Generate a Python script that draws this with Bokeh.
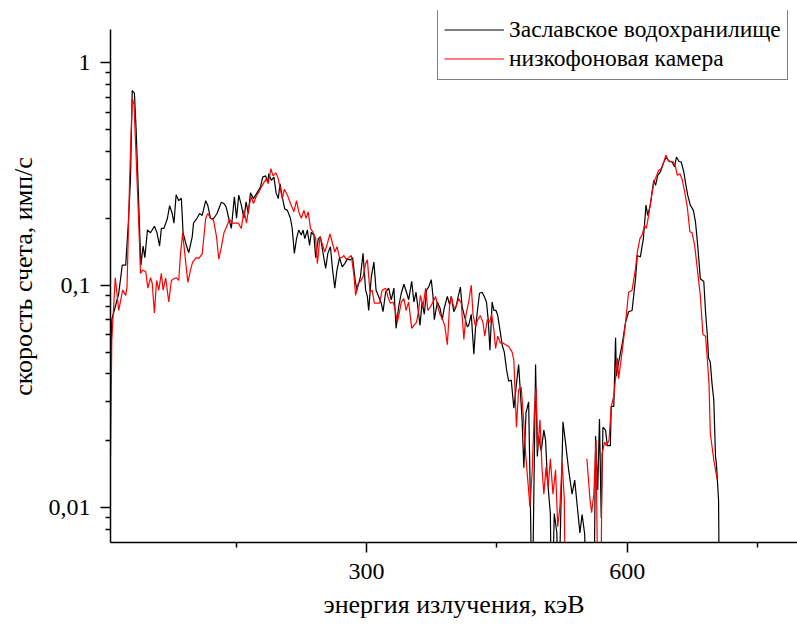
import math
from bokeh.plotting import figure
from bokeh.models import FixedTicker, CustomJSTickFormatter, Range1d
from bokeh.embed import file_html
from bokeh.resources import INLINE

NAN = float("nan")

# Заславское водохранилище (black)
black_energy = [5.5, 7, 11, 15, 19, 23, 26, 28.5, 30.5, 33, 35, 37, 39, 40.5, 43, 45, 48, 51.5, 56, 59,
                62, 64, 67, 71, 73.5, 76.5, 78.5, 81, 84, 87, 89, 93, 95.5, 99.5, 101, 105, 108, 111, 115, 117.5,
                120.5, 124, 128, 133, 136, 138.5, 141.5, 144.5, 148, 150.5, 153, 156, 159, 161.5, 164, 166.5, 170, 174, 178, 180.5,
                184, 186.5, 187.5, 190.5, 193.5, 196, 198.5, 200.5, 203, 206, 209, 212.5, 214.5, 217, 219.5, 222, 225, 227, 229, 232,
                234.5, 236.5, 239.5, 241.5, 244.5, 247, 249.5, 253, 255.5, 258.5, 261, 263.5, 266, 269, 272, 275, 278, 281.5, 284, 287,
                289, 293, 296, 299, 301, 302.5, 305.5, 308.5, 311, 314, 317, 319, 322, 325.5, 328.5, 331.5, 334, 337, 340, 343,
                346, 348.5, 352, 354.5, 357, 359, 361.5, 364, 366.5, 369, 371.5, 374.5, 376.5, 378, 381.5, 384.5, 387, 389.5, 393, 395.5,
                397.5, 400.5, 403, 405.5, 408, 410, 412.5, 416, 417.5, 420.5, 423.5, 425.5, 427.5, 430, 433, 435.5, 438, 440, 442, 444.5,
                446.5, 449, 451, 453.5, 456, 458.5, 461, 463.5, 466.5, 469.5, 472.5, 475, 477, 479, 481, 483.5, 486.5, 488.5, 490.5, 494.5,
                496.5, 498, 501, 504, 506, 508, 511.5, 513, 516, 519, 520.5, 526, 529, 532.5, 536.5, 539.5, 542.5, 545.5, 548, 551,
                553, 561.5, 563.5, 566, 568, 570, 572, 575, 577, 580.5, 581.5, 584.5, 586.5, 587.5, 590, 594, 598, 601.5, 605.5, 609.5,
                611.5, 615, 618.5, 620, 621.5, 623.5, 626.5, 628.5, 630.5, 632.5, 635, 638, 642, 645, 648, 651.5, 654.5, 656.5, 659.5, 662,
                665, 667.5, 669.5, 672.5, 676, 678.5, 681, 684, 688, 690, 692, 693.5, 695.5, 697.5, 699.5, 701.5, 702.5, 705, 706.5]
black_rate = [0.035, 0.070, 0.080, 0.092, 0.123, 0.123, 0.19, 0.30, 0.75, 0.73, 0.50, 0.30, 0.177, 0.123, 0.15, 0.133, 0.177, 0.172, 0.184, 0.172,
              0.15, 0.18, 0.18, 0.20, 0.228, 0.21, 0.19, 0.255, 0.24, 0.246, 0.172, 0.15, 0.14, 0.165, 0.19, 0.20, 0.21, 0.206, 0.24, 0.228,
              0.20, 0.199, 0.21, 0.236, 0.233, 0.225, 0.20, 0.18, 0.25, 0.20, 0.254, 0.229, 0.20, 0.237, 0.21, 0.26, 0.245, 0.26, 0.276, 0.306,
              0.31, 0.29, 0.317, 0.296, 0.306, 0.26, 0.245, 0.286, 0.25, 0.22, 0.217, 0.20, 0.18, 0.139, 0.162, 0.177, 0.168, 0.177, 0.162, 0.177,
              0.151, 0.173, 0.168, 0.133, 0.162, 0.165, 0.143, 0.119, 0.139, 0.149, 0.117, 0.097, 0.117, 0.133, 0.121, 0.125, 0.131, 0.13, 0.133, 0.105,
              0.095, 0.109, 0.139, 0.095, 0.089, 0.077, 0.109, 0.127, 0.095, 0.089, 0.083, 0.076, 0.093, 0.097, 0.086, 0.097, 0.064, 0.08, 0.092, 0.101,
              0.093, 0.086, 0.104, 0.084, 0.093, 0.08, 0.066, 0.084, 0.074, 0.095, 0.098, 0.106, 0.089, 0.07, 0.084, 0.079, 0.07, 0.079, 0.089, 0.082,
              0.089, 0.076, 0.08, 0.089, 0.098, 0.08, 0.073, 0.065, 0.066, 0.074, 0.049, 0.065, 0.076, 0.092, 0.093, 0.089, 0.084, 0.07, 0.051, 0.084,
              0.077, 0.077, 0.073, 0.063, 0.054, 0.05, 0.042, 0.037, 0.0375, 0.028, 0.036, 0.044, 0.033, 0.0248, 0.0151, 0.0267, 0.0299, 0.0108, 0.003, 0.044,
              0.017, 0.021, 0.018, 0.0223, 0.0201, 0.0137, 0.0094, 0.003, 0.0094, 0.0077, 0.003, 0.0243, 0.0195, 0.0148, 0.0115, 0.0133, 0.0101, 0.0077, 0.0093, 0.0076,
              0.003, 0.003, 0.021, 0.012, 0.025, 0.009, 0.023, 0.0223, 0.019, 0.019, 0.0285, 0.0285, 0.058, 0.039, 0.045, 0.054, 0.068, 0.076, 0.077, 0.107,
              0.136, 0.134, 0.162, 0.192, 0.229, 0.206, 0.229, 0.263, 0.296, 0.281, 0.312, 0.323, 0.358, 0.377, 0.36, 0.358, 0.34, 0.377, 0.36, 0.358,
              0.323, 0.281, 0.254, 0.229, 0.217, 0.192, 0.151, 0.107, 0.104, 0.076, 0.06, 0.047, 0.045, 0.036, 0.0305, 0.0169, 0.0158, 0.0108, 0.002]

# низкофоновая камера (red)
red_energy = [5.5, 7, 11, 15, 19.5, 23, 24.5, 27.5, 30.5, 32.5, 35, 38, 40, 42.5, 46, 48.5, 51.5, 53.5, 56, 58.5,
              61, 64, 66, 69, 70.5, 72.5, 75.5, 78.5, 81.5, 84, 86, 88.5, 92, 94.5, 97.5, 100, 104, 107, 111, 115,
              117.5, 120.5, 124, 127.5, 130, 133, 136, 139, 142.5, 145.5, 149.5, 152.5, 156, 159, 162, 164.5, 167.5, 170, 173, 176,
              179, 182, 184.5, 187, 190, 192.5, 195.5, 198, 200.5, 203, 205.5, 209, 212.5, 216.5, 219.5, 222, 225, 228, 230.5, 233,
              235.5, 238.5, 241.5, 243.5, 246.5, 249, 252, 255, 258, 260.5, 263.5, 266, 269, 271.5, 274, 276.5, 279.5, 282.5, 285.5, 287.5,
              290.5, 293, 296, 299, 301, 304, 306.5, 309, 312, 315, 318, 322, 324.5, 327.5, 330.5, 332.5, 335.5, 338, 340, 343,
              345.5, 348.5, 352, 354.5, 357.5, 360, 362, 365, 368, 370.5, 373.5, 376.5, 379.5, 382, 384.5, 387, 390, 393, 395.5, 397.5,
              400.5, 403, 406, 409, 412, 414.5, 417.5, 420.5, 422.5, 425.5, 428, 431, 434, 436, 439, 441.5, 444, 446.5, 448.5, 451,
              454, 457, 460, 463.5, 467.5, 469.5, 472.5, 475, 478, 480.5, 483, 485.5, 488, 490.5, 493, 495, 497, 499.5, 502, 504,
              506.5, 509, 511.5, 514.5, 517.5, 520, 522.5, 525, 527.5, 529.5, 540, 553.5, 557, 559, 561.5, 564, 567, 569, 571, 574,
              576, 579, 581.5, 584.5, 586.5, 588.5, 590, 594, 598, 601.5, 605.5, 609.5, 611.5, 614.5, 617, 620, 622, 624.5, 627.5, 630.5,
              633, 636, 639, 642, 644.5, 647, 650, 653, 655.5, 657.5, 660.5, 663, 666, 669, 672, 674.5, 677.5, 680.5, 684, 687,
              690, 692, 694, 695.5, 699.5, 703.5]
red_rate = [0.017, 0.057, 0.108, 0.077, 0.095, 0.09, 0.098, 0.30, 0.69, 0.65, 0.375, 0.19, 0.113, 0.117, 0.115, 0.097, 0.108, 0.102, 0.075, 0.105,
            0.095, 0.113, 0.095, 0.108, 0.097, 0.084, 0.105, 0.107, 0.108, 0.105, 0.138, 0.172, 0.127, 0.103, 0.117, 0.127, 0.133, 0.132, 0.138, 0.20,
            0.21, 0.20, 0.196, 0.165, 0.131, 0.148, 0.172, 0.183, 0.198, 0.19, 0.19, 0.19, 0.18, 0.217, 0.19, 0.224, 0.25, 0.233, 0.25, 0.262,
            0.276, 0.29, 0.30, 0.286, 0.334, 0.31, 0.32, 0.306, 0.276, 0.245, 0.27, 0.254, 0.233, 0.214, 0.24, 0.214, 0.20, 0.217, 0.20, 0.214,
            0.18, 0.173, 0.162, 0.125, 0.165, 0.154, 0.141, 0.154, 0.17, 0.156, 0.141, 0.149, 0.133, 0.133, 0.136, 0.131, 0.133, 0.136, 0.111, 0.09,
            0.102, 0.104, 0.109, 0.125, 0.13, 0.093, 0.095, 0.083, 0.083, 0.083, 0.095, 0.097, 0.089, 0.083, 0.084, 0.079, 0.068, 0.076, 0.084, 0.087,
            0.077, 0.084, 0.064, 0.066, 0.068, 0.077, 0.09, 0.08, 0.097, 0.077, 0.08, 0.084, 0.089, 0.08, 0.074, 0.071, 0.066, 0.054, 0.08, 0.089,
            0.079, 0.08, 0.087, 0.083, 0.057, 0.074, 0.084, 0.1, 0.074, 0.065, 0.07, 0.073, 0.068, 0.059, 0.07, 0.068, 0.074, 0.063, 0.052, 0.059,
            0.055, 0.055, 0.054, 0.053, 0.05, 0.046, 0.023, 0.034, 0.0348, 0.0255, 0.0175, 0.0133, 0.0101, 0.0143, 0.0267, 0.0348, 0.0182, 0.0248, 0.0148, 0.0115,
            0.0152, 0.0124, 0.0166, 0.0115, 0.0148, 0.0082, 0.0101, 0.016, 0.011, 0.002, NAN, 0.0166, 0.011, 0.0095, 0.0115, 0.0201, 0.002, 0.002, 0.0175, 0.0197,
            0.019, 0.0201, 0.0285, 0.0317, 0.038, 0.047, 0.038, 0.05, 0.068, 0.093, 0.095, 0.119, 0.141, 0.162, 0.168, 0.186, 0.18, 0.206, 0.245, 0.29,
            0.306, 0.328, 0.334, 0.358, 0.384, 0.364, 0.36, 0.358, 0.34, 0.312, 0.317, 0.30, 0.263, 0.225, 0.174, 0.172, 0.151, 0.119, 0.09, 0.06,
            0.059, 0.047, 0.036, 0.0216, 0.0164, 0.0133]

x_major = [300, 600]
x_minor = [150, 450, 750]
y_major = [0.01, 0.1, 1]
y_minor = [0.008, 0.009, 0.02, 0.03, 0.04, 0.05, 0.06, 0.07, 0.08, 0.09,
           0.2, 0.3, 0.4, 0.5, 0.6, 0.7, 0.8, 0.9]
y_axis_min, y_axis_max = 0.00697, 1.407   # extent of the drawn y axis line

x_title = "энергия излучения, кэВ"
y_title = "скорость счета, имп/с"

FONT = "Liberation Serif"

p = figure(width=797, height=626, y_axis_type="log",
           x_range=Range1d(5.5, 795.8), y_range=Range1d(y_axis_min, 1.718),
           output_backend="svg", toolbar_location=None,
           min_border_left=110, min_border_right=0, min_border_top=10, min_border_bottom=84)
p.outline_line_color = None
p.grid.visible = False
p.background_fill_color = "white"
p.border_fill_color = "white"

p.line(black_energy, black_rate, line_color="black", line_width=1.2, legend_label="Заславское водохранилище")
p.line(red_energy, red_rate, line_color="#ff0000", line_width=1.2, legend_label="низкофоновая камера")

for ax in (p.xaxis[0], p.yaxis[0]):
    ax.axis_line_width = 1.5
    ax.major_tick_line_width = 1.5
    ax.minor_tick_line_width = 1.5
    ax.major_tick_in = 0
    ax.major_tick_out = 10
    ax.minor_tick_in = 0
    ax.minor_tick_out = 5
    ax.major_label_text_font = FONT
    ax.major_label_text_font_size = "24px"
    ax.major_label_text_color = "black"
    ax.axis_label_text_font = FONT
    ax.axis_label_text_font_style = "normal"
    ax.axis_label_text_color = "black"
    ax.axis_label_text_font_size = "26px"

p.xaxis.ticker = FixedTicker(ticks=x_major, minor_ticks=x_minor)
p.yaxis.ticker = FixedTicker(ticks=y_major, minor_ticks=y_minor)
p.yaxis.bounds = (y_axis_min, y_axis_max)
p.yaxis.formatter = CustomJSTickFormatter(code="return tick.toString().replace('.', ',');")
p.xaxis.axis_label = x_title
p.yaxis.axis_label = y_title
p.xaxis.major_label_standoff = 11
p.xaxis.axis_label_standoff = 8
p.yaxis.major_label_standoff = 10
p.yaxis.axis_label_standoff = 8

lg = p.legend[0]
lg.location = (327, 462)
lg.label_text_font = FONT
lg.label_text_font_size = "23.5px"
lg.label_text_color = "black"
lg.label_height = 29
lg.glyph_height = 29
lg.border_line_color = "black"
lg.border_line_width = 1.2
lg.background_fill_alpha = 1
lg.padding = 6
lg.spacing = 0
lg.glyph_width = 60
lg.label_standoff = 5
lg.margin = 0

open("out.html", "w").write(file_html(p, INLINE))
